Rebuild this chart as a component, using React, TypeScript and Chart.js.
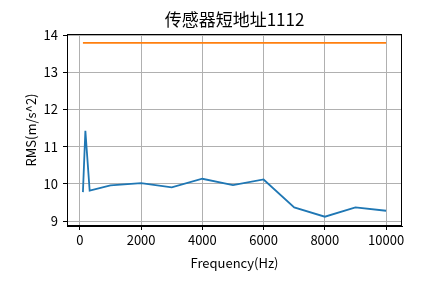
import React, { useEffect, useRef } from "react";
import { Chart, registerables } from "chart.js";

Chart.register(...registerables);

const TITLE = "传感器短地址1112";
const X_LABEL = "Frequency(Hz)";
const Y_LABEL = "RMS(m/s^2)";

const blueFreq = [100, 180, 320, 1000, 2000, 3000, 4000, 5000, 6000, 7000, 8000, 9000, 10000];
const blueRms = [9.78, 11.43, 9.82, 9.96, 10.02, 9.91, 10.14, 9.97, 10.12, 9.37, 9.12, 9.37, 9.28];
const orangeFreq = [100, 10000];
const orangeRms = [13.79, 13.79];

const xTicks = [0, 2000, 4000, 6000, 8000, 10000];
const yTicks = [9, 10, 11, 12, 13, 14];

const FONT = "'Noto Sans CJK SC', 'DejaVu Sans', sans-serif";

export default function App() {
  const ref = useRef<HTMLCanvasElement | null>(null);
  useEffect(() => {
    if (!ref.current) return;
    const framePlugin = {
      id: "frame",
      afterDraw(chart: any) {
        const { ctx, chartArea } = chart;
        const { left, right, top, bottom } = chartArea;
        ctx.save();
        ctx.strokeStyle = "#000";
        ctx.lineWidth = 1;
        ctx.strokeRect(left + 0.5, top + 0.5, right - left - 1, bottom - top - 1);
        ctx.fillStyle = "#000";
        ctx.textAlign = "center";
        ctx.textBaseline = "middle";
        ctx.font = `17px ${FONT}`;
        ctx.fillText(TITLE, (left + right) / 2, 20);
        ctx.font = `13px ${FONT}`;
        ctx.fillText(X_LABEL, (left + right) / 2, 263);
        ctx.translate(31, (top + bottom) / 2);
        ctx.rotate(-Math.PI / 2);
        ctx.fillText(Y_LABEL, 0, 0);
        ctx.restore();
      },
    };
    const chart = new Chart(ref.current, {
      type: "line",
      data: {
        datasets: [
          {
            data: blueFreq.map((x, i) => ({ x, y: blueRms[i] })),
            borderColor: "#1f77b4",
            borderWidth: 1.8,
            pointRadius: 0,
            tension: 0,
          },
          {
            data: orangeFreq.map((x, i) => ({ x, y: orangeRms[i] })),
            borderColor: "#ff7f0e",
            borderWidth: 1.8,
            pointRadius: 0,
            tension: 0,
          },
        ],
      },
      options: {
        responsive: false,
        animation: false,
        layout: { padding: { top: 34, right: 43, bottom: 0, left: 0 } },
        plugins: { legend: { display: false }, title: { display: false }, tooltip: { enabled: false } },
        scales: {
          x: {
            type: "linear",
            min: -420,
            max: 10520,
            afterBuildTicks: (axis: any) => {
              axis.ticks = xTicks.map((v) => ({ value: v }));
            },
            afterFit: (axis: any) => {
              axis.height = 283 - 226;
            },
            grid: { color: "#b0b0b0", lineWidth: 1, tickColor: "#000", tickLength: 4 },
            border: { display: true, color: "#000" },
            ticks: {
              color: "#000",
              font: { family: FONT, size: 13 },
              padding: 2,
              maxRotation: 0,
              autoSkip: false,
              callback: (v: any) => String(v),
            },
          },
          y: {
            type: "linear",
            min: 8.87,
            max: 14.03,
            afterBuildTicks: (axis: any) => {
              axis.ticks = yTicks.map((v) => ({ value: v }));
            },
            afterFit: (axis: any) => {
              axis.width = 67;
            },
            grid: { color: "#b0b0b0", lineWidth: 1, tickColor: "#000", tickLength: 4 },
            border: { display: true, color: "#000" },
            ticks: {
              color: "#000",
              font: { family: FONT, size: 13 },
              padding: 5,
              autoSkip: false,
              callback: (v: any) => String(v),
            },
          },
        },
      },
      plugins: [framePlugin],
    } as any);
    return () => chart.destroy();
  }, []);
  return (
    <div style={{ position: "fixed", left: 0, top: 0, width: 445, height: 283, background: "#fff" }}>
      <canvas ref={ref} width={445} height={283} style={{ width: 445, height: 283 }} />
    </div>
  );
}
